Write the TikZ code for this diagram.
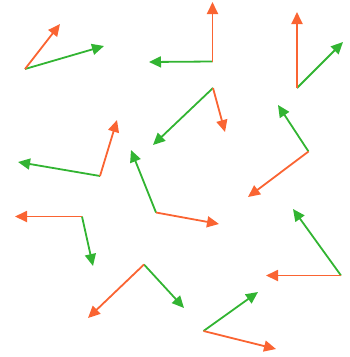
\documentclass[tikz,border=0pt]{standalone}
\usetikzlibrary{arrows.meta}
\definecolor{vorange}{RGB}{250,100,50}
\definecolor{vgreen}{RGB}{50,180,50}
\tikzset{
  vec/.style={line width=1.8pt, -{Triangle[length=12pt,width=11pt]}},
  ovec/.style={vec, draw=vorange, fill=vorange},
  gvec/.style={vec, draw=vgreen, fill=vgreen},
}
\begin{document}
\begin{tikzpicture}[x=1pt,y=-1pt]
\useasboundingbox (0,0) rectangle (349,357);
% 1
\coordinate (o1) at (25,69); \coordinate (a1) at (60,24); \coordinate (b1) at (104,46);
% 2
\coordinate (o2) at (212.5,61.5); \coordinate (a2) at (212.5,2); \coordinate (b2) at (149,62);
% 3
\coordinate (o3) at (297,88); \coordinate (a3) at (297,12); \coordinate (b3) at (343,42);
% 4
\coordinate (o4) at (213,88); \coordinate (a4) at (225,132); \coordinate (b4) at (153,145);
% 5
\coordinate (o5) at (100,176); \coordinate (a5) at (117,120); \coordinate (b5) at (18,162);
% 6
\coordinate (o6) at (156,212.5); \coordinate (a6) at (219,224); \coordinate (b6) at (131,150);
% 7
\coordinate (o7) at (308.5,151.5); \coordinate (a7) at (248,197); \coordinate (b7) at (278,105);
% 8
\coordinate (o8) at (82,216.5); \coordinate (a8) at (15,216.5); \coordinate (b8) at (93,266);
% 9
\coordinate (o9) at (341,275.5); \coordinate (a9) at (266,275.5); \coordinate (b9) at (293,209);
% 10
\coordinate (o10) at (144,264.5); \coordinate (a10) at (88,318); \coordinate (b10) at (184,308);
% 11
\coordinate (o11) at (203.5,331); \coordinate (a11) at (276,349); \coordinate (b11) at (258,292);

\foreach \i in {1,...,11}{
  \draw[gvec] (o\i) -- (b\i);
  \draw[ovec] (o\i) -- (a\i);
}
\end{tikzpicture}
\end{document}
